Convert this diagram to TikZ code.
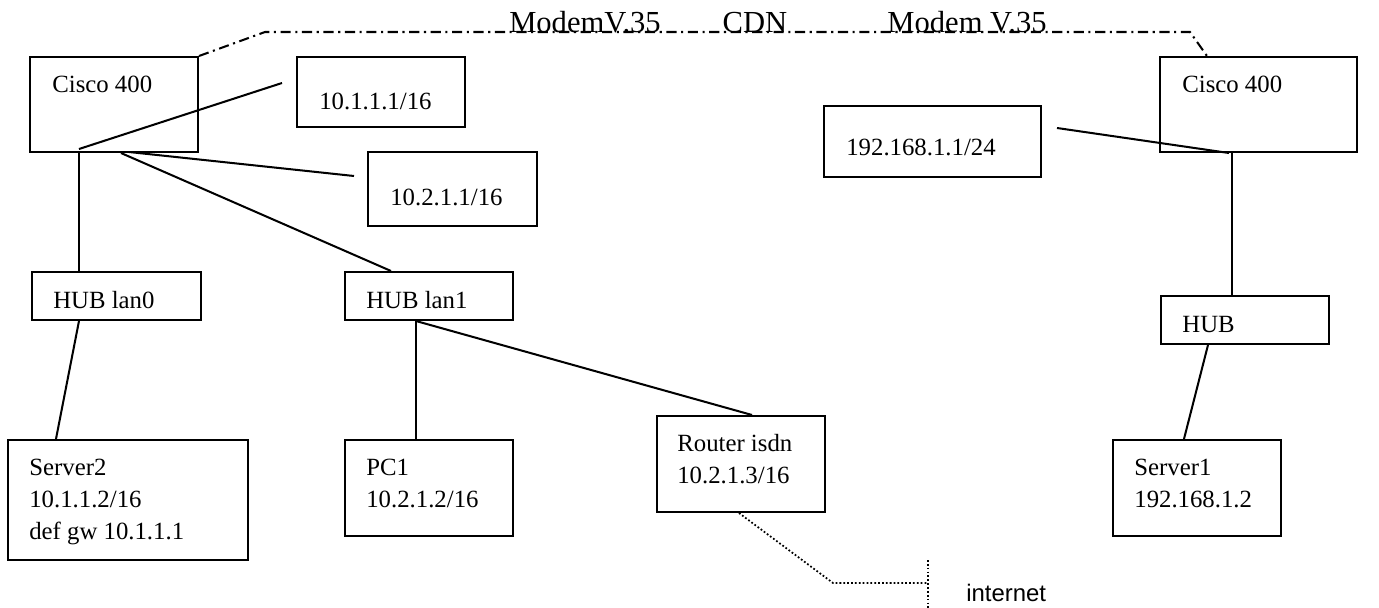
\documentclass[tikz,border=0pt]{standalone}
\usepackage{fontspec}
\setmainfont{Liberation Serif}
\newfontfamily\inetfont{Liberation Sans}
\usetikzlibrary{fit,calc}
\begin{document}
\begin{tikzpicture}[x=0.02cm,y=-0.02cm,
  box/.style={draw, line width=1.15pt, inner sep=0pt},
  txt/.style={inner sep=0pt, anchor=base west, font=\fontsize{14.1}{18.1}\selectfont},
  mtxt/.style={inner sep=0pt, anchor=north west, align=left, font=\fontsize{14.1}{18.1}\selectfont},
  wire/.style={line width=1.15pt},
  modem/.style={line width=1.15pt, dash pattern=on 5.8pt off 2.6pt on 1.2pt off 2.6pt},
  isdn/.style={line width=1pt, dash pattern=on 1pt off 1.2pt},
  toplbl/.style={inner sep=0pt, anchor=base, font=\fontsize{17.4}{20}\selectfont}]
\useasboundingbox (0,0) rectangle (1379,608);

% boxes
\node[box, fit={(30,57) (198,152)}] (c1) {};
\node[box, fit={(297,57) (465,127)}] (ip1) {};
\node[box, fit={(368,152) (537,226)}] (ip2) {};
\node[box, fit={(32,272) (201,320)}] (lan0) {};
\node[box, fit={(345,272) (513,320)}] (lan1) {};
\node[box, fit={(8,440) (248,560)}] (srv2) {};
\node[box, fit={(345,440) (513,536)}] (pc1) {};
\node[box, fit={(657,416) (825,512)}] (rtr) {};
\node[box, fit={(1160,57) (1357,152)}] (c2) {};
\node[box, fit={(824,106) (1041,177)}] (ip3) {};
\node[box, fit={(1161,296) (1329,344)}] (hub) {};
\node[box, fit={(1113,440) (1281,536)}] (srv1) {};

% texts
\node[txt] (c1t) at (52,92) {Cisco 400};
\node[txt] (ip1t) at (319,110) {10.1.1.1/16};
\node[txt] (ip2t) at (390,205) {10.2.1.1/16};
\node[txt] (lan0t) at (53,308) {HUB lan0};
\node[txt] (lan1t) at (366,308) {HUB lan1};
\node[mtxt] (srv2t) at (29,459) {Server2\\10.1.1.2/16\\def gw 10.1.1.1};
\node[mtxt] (pc1t) at (366,459) {PC1\\10.2.1.2/16};
\node[mtxt] (rtrt) at (677,434) {Router isdn\\10.2.1.3/16};
\node[txt] (c2t) at (1182,92) {Cisco 400};
\node[txt] (ip3t) at (846,155) {192.168.1.1/24};
\node[txt] (hubt) at (1182,332) {HUB};
\node[mtxt] (srv1t) at (1134,459) {Server1\\192.168.1.2};
\node[txt, font=\inetfont\fontsize{13.6}{16}\selectfont] (inet) at (966,601) {internet};

% top labels
\node[toplbl] (m1) at (585,33) {ModemV.35};
\node[toplbl] (cdn) at (755,33) {CDN};
\node[toplbl] (m2) at (967,33) {Modem V.35};

% coordinates for free ends
\coordinate (c1a) at ($(c1.south west)+(50,-4)$);
\coordinate (ip1a) at (282,83);
\coordinate (c1b) at ($(c1.south west)+(100,-1)$);
\coordinate (ip2a) at (354,176);
\coordinate (ip3a) at (1057,128);
\coordinate (k1) at (265,32);
\coordinate (k2) at (1190,32);
\coordinate (d1) at (833,583);
\coordinate (d2) at (928,583);
\coordinate (v1) at (928,560);
\coordinate (v2) at (928,608);

% connectors
\draw[wire] (c1a) -- (ip1a);
\draw[wire] (c1b) -- (ip2a);
\draw[wire] ($(c1.south west)+(92,0)$) -- ($(lan1.north west)+(47,0)$);
\draw[wire] ($(c1.south west)+(50,0)$) -- ($(lan0.north west)+(48,0)$);
\draw[wire] ($(lan0.south west)+(48,0)$) -- ($(srv2.north west)+(49,0)$);
\draw[wire] ($(lan1.south west)+(72,0)$) -- ($(pc1.north west)+(72,0)$);
\draw[wire] ($(lan1.south west)+(72,0)$) -- ($(rtr.north west)+(96,0)$);
\draw[wire] (ip3a) -- ($(c2.south west)+(70,0)$);
\draw[wire] ($(c2.south west)+(73,0)$) -- ($(hub.north west)+(72,0)$);
\draw[wire] ($(hub.south west)+(48,0)$) -- ($(srv1.north west)+(72,0)$);

\draw[isdn] ($(rtr.south west)+(83,0)$) -- (d1) -- (d2);
\draw[isdn] (v1) -- (v2);

\draw[modem] (c1.north east) -- (k1) -- (k2) -- ($(c2.north west)+(48,0)$);
\end{tikzpicture}
\end{document}
